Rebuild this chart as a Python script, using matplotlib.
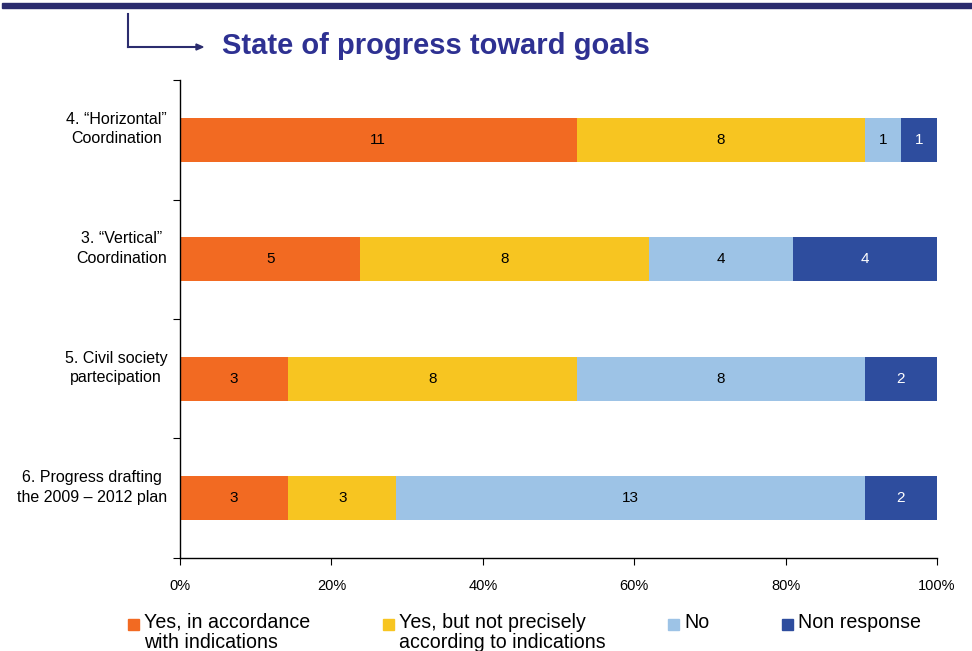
import numpy as np
import matplotlib.pyplot as plt
from matplotlib.patches import Rectangle

plt.rcParams['font.family'] = ['Liberation Sans', 'DejaVu Sans']

# goals, top to bottom
goals = ['4. \u201cHorizontal\u201d\nCoordination',
         '3. \u201cVertical\u201d\nCoordination',
         '5. Civil society\npartecipation',
         '6. Progress drafting\nthe 2009 \u2013 2012 plan']

# number of answers per goal
yes_ok = [11, 5, 3, 3]
yes_partly = [8, 8, 8, 3]
no = [1, 4, 8, 13]
no_resp = [1, 4, 2, 2]

series = [yes_ok, yes_partly, no, no_resp]
names = ['Yes, in accordance\nwith indications',
         'Yes, but not precisely\naccording to indications',
         'No', 'Non response']
colors = ['#F26A22', '#F7C521', '#9DC3E6', '#2E4D9E']
txt_colors = ['black', 'black', 'black', 'white']

data = np.array(series, dtype=float)
totals = data.sum(axis=0)
shares = data / totals

fig = plt.figure(figsize=(9.72, 6.51), dpi=100)
ax = fig.add_axes([0.1852, 0.143, 0.964 - 0.1852, 0.877 - 0.143])

y = np.arange(len(goals))
left = np.zeros(len(goals))
for k in range(len(series)):
    ax.barh(y, shares[k], left=left, height=0.37, color=colors[k])
    for i in range(len(goals)):
        ax.text(left[i] + shares[k][i] / 2, y[i], '%d' % data[k][i],
                ha='center', va='center', fontsize=11, color=txt_colors[k])
    left += shares[k]

ax.set_xlim(0, 1)
ax.set_ylim(len(goals) - 0.5, -0.5)
ax.set_xticks(np.linspace(0, 1, 6))
ax.set_xticklabels(['%d%%' % v for v in range(0, 101, 20)], fontsize=10.5)
ax.set_yticks(np.arange(len(goals) + 1) - 0.5)
ax.set_yticklabels([])
ax.tick_params(axis='y', length=5, direction='out')
ax.tick_params(axis='x', length=5, direction='out', pad=10)

# category names sit a little above the bar centre
for i, g in enumerate(goals):
    ax.text(-0.017, y[i] - 0.09, g, transform=ax.get_yaxis_transform(),
            ha='right', va='center', fontsize=11.5, multialignment='center',
            linespacing=1.35)

for s in ['top', 'right']:
    ax.spines[s].set_visible(False)
for s in ['left', 'bottom']:
    ax.spines[s].set_color('black')
    ax.spines[s].set_linewidth(1)

# header band, arrow and title
fig.add_artist(Rectangle((0.002, 1 - 8 / 651), 0.998, 5 / 651,
                         transform=fig.transFigure, color='#2B2C6E'))
fig.add_artist(plt.Line2D([128 / 972, 128 / 972], [1 - 14 / 651, 1 - 47 / 651],
                          transform=fig.transFigure, color='#2B2C6E', lw=1.5))
fig.add_artist(plt.Line2D([128 / 972, 196 / 972], [1 - 47 / 651, 1 - 47 / 651],
                          transform=fig.transFigure, color='#2B2C6E', lw=1.5))
fig.add_artist(plt.Polygon([[196 / 972, 1 - 44 / 651], [203 / 972, 1 - 47 / 651],
                            [196 / 972, 1 - 50 / 651]],
                           transform=fig.transFigure, color='#2B2C6E'))
fig.text(222 / 972, 1 - 46 / 651, 'State of progress toward goals',
         fontsize=21, fontweight='bold', color='#2E3192', va='center', ha='left')

# legend along the bottom
leg_x = [128, 383, 668, 782]
for k in range(len(names)):
    fig.add_artist(Rectangle((leg_x[k] / 972, 1 - 630 / 651), 11 / 972, 11 / 651,
                             transform=fig.transFigure, color=colors[k]))
    fig.text((leg_x[k] + 16) / 972, 1 - 613 / 651, names[k], fontsize=14.1,
             va='top', ha='left', linespacing=1.05)

fig.savefig('out.png', dpi=100)
